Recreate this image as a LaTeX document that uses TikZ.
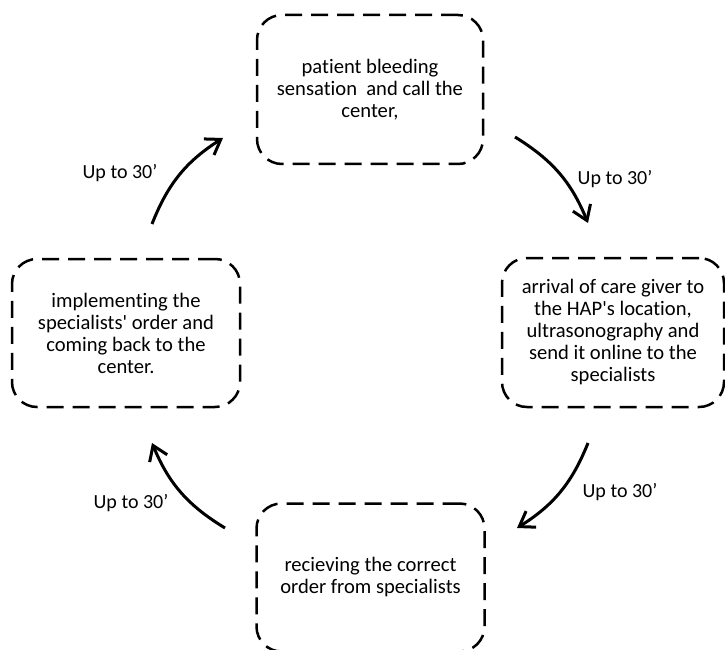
\documentclass[tikz,border=0pt]{standalone}
\usepackage{fontspec}
\setmainfont{Carlito}[Ligatures={NoCommon}]
\usetikzlibrary{arrows.meta}
\begin{document}
\begin{tikzpicture}[x=1pt,y=1pt,
  stepbox/.style={draw, line width=2.5pt, dash pattern=on 17pt off 9pt,
    rounded corners=25pt, align=center, inner sep=0pt,
    font=\fontsize{20.6}{22}\selectfont},
  flow/.style={line width=3pt, -{Straight Barb[length=14pt,width=19pt]}},
  lbl/.style={font=\fontsize{20}{22}\selectfont, inner sep=0pt}]
\useasboundingbox (0,0) rectangle (725,649);
\node[stepbox, minimum width=226pt, minimum height=149pt] (top) at (370,559.5)
  {patient bleeding\\sensation\ \ and call the\\center,};
\node[stepbox, minimum width=222pt, minimum height=149pt] (right) at (613,316.5)
  {arrival of care giver to\\the HAP\textquotesingle s location,\\ultrasonography and\\send it online to the\\specialists};
\node[stepbox, minimum width=228pt, minimum height=148pt] (bottom) at (370.5,71.5)
  {recieving the correct\\order from specialists};
\node[stepbox, minimum width=228pt, minimum height=148pt] (left) at (126,316)
  {implementing the\\specialists\textquotesingle\ order and\\coming back to the\\center.};
% arrow end points
\coordinate (a1s) at (152,425); \coordinate (a1e) at (223,511);
\coordinate (a2s) at (515,512); \coordinate (a2e) at (588,426);
\coordinate (a3s) at (588,206); \coordinate (a3e) at (517,121);
\coordinate (a4s) at (225,121); \coordinate (a4e) at (152,206);
\draw[flow] (a1s) to[bend left=18] (a1e);
\draw[flow] (a2s) to[bend left=18] (a2e);
\draw[flow] (a3s) to[bend left=18] (a3e);
\draw[flow] (a4s) to[bend left=18] (a4e);
\node[lbl] (l1) at (120,476) {Up to 30’};
\node[lbl] (l2) at (615,470) {Up to 30’};
\node[lbl] (l3) at (620,157) {Up to 30’};
\node[lbl] (l4) at (131,146) {Up to 30’};
\end{tikzpicture}
\end{document}
